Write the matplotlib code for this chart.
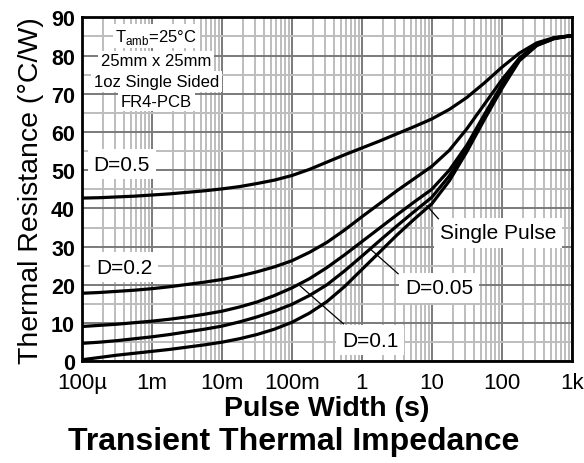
"""Transient thermal impedance vs pulse width (datasheet style)."""
import matplotlib
matplotlib.use("Agg")
import matplotlib.pyplot as plt
from matplotlib.ticker import LogLocator, MultipleLocator, FixedLocator, NullFormatter

plt.rcParams["font.family"] = ["Liberation Sans", "DejaVu Sans"]
plt.rcParams["mathtext.fontset"] = "custom"
plt.rcParams["mathtext.rm"] = "Liberation Sans"

# pulse width (s), quarter-decade steps
pulse_width = [1e-4, 1.78e-4, 3.16e-4, 5.62e-4,
               1e-3, 1.78e-3, 3.16e-3, 5.62e-3,
               0.01, 0.0178, 0.0316, 0.0562,
               0.1, 0.178, 0.316, 0.562,
               1.0, 1.78, 3.16, 5.62,
               10.0, 17.8, 31.6, 56.2,
               100.0, 178.0, 316.0, 562.0, 1000.0]

# thermal resistance (C/W) per duty cycle
r_d05 = [42.7, 42.8, 43.0, 43.2, 43.5, 43.8, 44.2, 44.6, 45.1, 45.7,
         46.5, 47.4, 48.6, 50.2, 52.1, 54.0, 55.8, 57.6, 59.5, 61.4,
         63.4, 65.9, 69.0, 72.8, 76.9, 80.6, 83.3, 84.7, 85.2]
r_d02 = [17.8, 18.0, 18.3, 18.6, 19.0, 19.5, 20.1, 20.7, 21.4, 22.3,
         23.4, 24.7, 26.3, 28.5, 31.1, 34.3, 37.8, 41.2, 44.6, 47.8,
         51.0, 55.2, 60.8, 67.2, 73.6, 79.3, 83.0, 84.6, 85.2]
r_d01 = [9.1, 9.4, 9.7, 10.1, 10.5, 11.0, 11.6, 12.3, 13.1, 14.2,
         15.5, 17.2, 19.2, 21.6, 24.5, 27.8, 31.3, 34.8, 38.3, 41.7,
         45.0, 50.0, 56.5, 64.5, 72.3, 79.0, 82.8, 84.5, 85.2]
r_d005 = [4.7, 5.0, 5.4, 5.9, 6.4, 7.0, 7.7, 8.4, 9.2, 10.3,
          11.6, 13.1, 14.9, 17.2, 20.0, 23.6, 27.5, 31.5, 35.4, 39.2,
          42.9, 48.5, 55.6, 63.8, 71.8, 78.8, 82.7, 84.5, 85.2]
r_single = [0.4, 1.0, 1.6, 2.1, 2.6, 3.1, 3.7, 4.3, 5.0, 5.9,
            7.0, 8.4, 10.2, 12.6, 15.6, 19.5, 24.0, 28.5, 33.0, 37.2,
            41.2, 47.2, 54.8, 63.2, 71.3, 78.6, 82.6, 84.4, 85.2]

x_ticks = [1e-4, 1e-3, 1e-2, 0.1, 1, 10, 100, 1000]
x_ticklabels = ["100µ", "1m", "10m", "100m", "1", "10", "100", "1k"]
y_ticks = list(range(0, 91, 10))

box_lines = [r"T$_{\mathregular{amb}}$=25°C", "25mm x 25mm",
             "1oz Single Sided", "FR4-PCB"]

fig = plt.figure(figsize=(5.84, 4.64), dpi=100)
ax = fig.add_axes([0.1404, 0.2192, 0.8386, 0.7414])

for r in (r_d05, r_d02, r_d01, r_d005, r_single):
    ax.plot(pulse_width, r, color="black", lw=2.3, solid_capstyle="round",
            solid_joinstyle="round", zorder=4)

ax.set_xscale("log")
ax.set_xlim(1e-4, 1e3)
ax.set_ylim(0, 90)
ax.xaxis.set_major_locator(FixedLocator(x_ticks))
ax.set_xticklabels(x_ticklabels)
ax.xaxis.set_minor_locator(LogLocator(base=10, subs=range(2, 10), numticks=20))
ax.xaxis.set_minor_formatter(NullFormatter())
ax.set_yticks(y_ticks)
ax.yaxis.set_minor_locator(MultipleLocator(5))

ax.grid(which="major", color="#7a7a7a", lw=1.4, zorder=0)
ax.grid(which="minor", color="#bdbdbd", lw=1.4, zorder=0)
ax.set_axisbelow(True)
ax.tick_params(which="both", length=0)
ax.tick_params(axis="x", labelsize=16, pad=8)
ax.tick_params(axis="y", labelsize=15.5, pad=5)
for lab in ax.get_yticklabels():
    lab.set_fontweight("bold")
for sp in ax.spines.values():
    sp.set_linewidth(2)
    sp.set_zorder(5)

ax.set_ylabel("Thermal Resistance (°C/W)", fontsize=20.5, labelpad=5)
ax.set_xlabel("Pulse Width (s)", fontsize=20.5, fontweight="bold", labelpad=1)
fig.text(0.503, 0.047, "Transient Thermal Impedance", fontsize=23,
         fontweight="bold", ha="center", va="center")

# condition box, each line on its own white background
wbox = dict(facecolor="white", edgecolor="none", pad=2)
for txt, yb in zip(box_lines, [83.9, 77.4, 72.0, 66.9]):
    ax.text(1.15e-3, yb, txt, fontsize=12, ha="center", va="baseline",
            bbox=wbox, zorder=3)

# curve labels
lbox = dict(facecolor="white", edgecolor="none", pad=4)
ax.text(3.7e-4, 51.6, "D=0.5", fontsize=15, ha="center", va="center", bbox=lbox, zorder=3)
ax.text(4.0e-4, 24.6, "D=0.2", fontsize=15, ha="center", va="center", bbox=lbox, zorder=3)
ax.text(1.31, 5.5, "D=0.1", fontsize=15, ha="center", va="center", bbox=lbox, zorder=3)
ax.text(12.6, 19.2, "D=0.05", fontsize=15, ha="center", va="center", bbox=lbox, zorder=3)
ax.text(89, 33.6, "Single Pulse", fontsize=15, ha="center", va="center", bbox=lbox, zorder=3)

# leader lines
ax.plot([0.1315, 0.546], [19.7, 9.8], color="black", lw=0.9, zorder=5)
ax.plot([1.315, 3.30], [29.4, 22.9], color="black", lw=0.9, zorder=5)
ax.plot([8.49, 12.4], [40.7, 37.3], color="black", lw=0.9, zorder=5)

fig.savefig("out.png", dpi=100)
